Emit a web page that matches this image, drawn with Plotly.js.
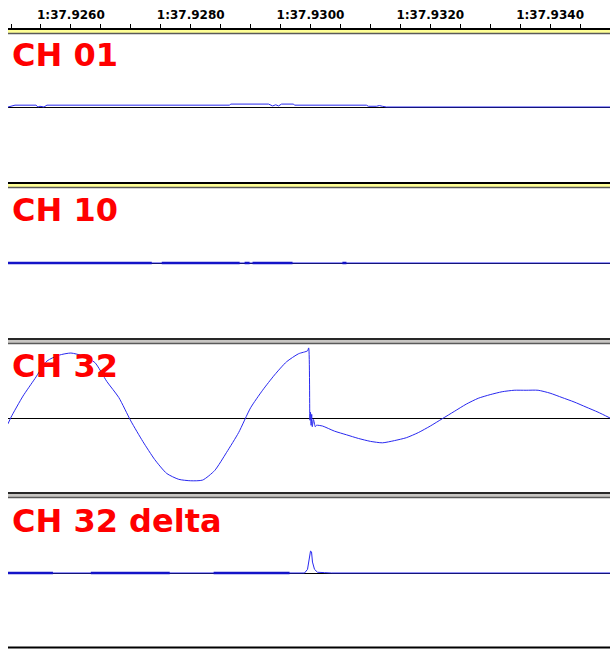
<!DOCTYPE html>
<html>
<head>
<meta charset="utf-8">
<script src="https://cdn.plot.ly/plotly-3.0.1.min.js"></script>
<style>html,body{margin:0;padding:0;background:#fff;}#chart{width:610px;height:649px;}</style>
</head>
<body>
<div id="chart"></div>
<script>
// ---- DATA (time in ms after 1:37.9 s, amplitude -1..1) ----
const channelNames = ["CH 01", "CH 10", "CH 32", "CH 32 delta"];

const tickTimes = [925.0,925.5,926.0,926.5,927.0,927.5,928.0,928.5,929.0,929.5,930.0,930.5,931.0,931.5,932.0,932.5,933.0,933.5,934.0,934.5,935.0];
const tickLabels = ["","","1:37.9260","","","","1:37.9280","","","","1:37.9300","","","","1:37.9320","","","","1:37.9340","",""];

// CH 01
const t01 = [924.95,925.067,925.417,925.45,925.483,925.55,925.6,928.65,928.667,929.3,929.367,929.42,929.467,929.517,929.717,929.733,930.933,930.967,931.1,931.15,931.2,931.267,935.0];
const v01 = [0.0,0.025,0.025,0.0,0.01,0.0,0.025,0.025,0.04,0.04,0.015,0.03,0.015,0.04,0.04,0.025,0.025,0.01,0.01,0.02,0.01,0.0,0.0];

// CH 10 (flat signal, with noisy stretches)
const t10 = [924.95,935.0];
const v10 = [0,0];
const t10noise = [924.95,927.35,null,927.517,928.817,null,928.9,928.983,null,929.033,929.7,null,930.533,930.6];
const v10noise = [0,0,null,0,0,null,0,0,null,0,0,null,0,0];

// CH 32
const t32 = [924.95,925.0,925.2,925.4,925.6,925.8,926.0,926.2,926.4,926.6,926.8,927.0,927.2,927.4,927.6,927.8,928.0,928.2,928.4,928.6,928.8,929.0,929.2,929.4,929.6,929.8,929.95,929.97,929.99,930.0,930.01,930.02,930.03,930.05,930.08,930.1,930.2,930.4,930.6,930.8,931.0,931.2,931.4,931.6,931.8,932.0,932.2,932.4,932.6,932.8,933.0,933.2,933.4,933.6,933.8,934.0,934.2,934.4,934.6,934.8,935.0];
const v32 = [-0.08,0.01,0.30,0.54,0.78,0.86,0.89,0.85,0.76,0.50,0.28,-0.04,-0.32,-0.57,-0.76,-0.84,-0.86,-0.85,-0.72,-0.47,-0.20,0.14,0.38,0.59,0.77,0.88,0.92,0.96,-0.03,0.08,-0.10,0.05,-0.12,-0.02,-0.12,-0.10,-0.11,-0.18,-0.23,-0.28,-0.32,-0.34,-0.31,-0.27,-0.20,-0.11,-0.01,0.09,0.19,0.27,0.32,0.36,0.38,0.38,0.38,0.34,0.28,0.22,0.15,0.08,0.0];

// CH 32 delta
const tDelta = [924.95,929.9,929.95,929.975,930.0,930.017,930.033,930.067,930.117,930.233,930.35,935.0];
const vDelta = [0,0,0.05,0.2,0.3,0.29,0.15,0.05,0.01,0.005,0,0];
const tDeltaNoise = [924.95,925.7,null,926.333,927.65,null,928.383,929.65];
const vDeltaNoise = [0,0,null,0,0,null,0,0];

// ---- LAYOUT ----
const W = 610, H = 649, mt = 28, mb = 0;
const plotH = H - mt - mb;
const py = p => (H - mb - p) / plotH;   // pixel y -> paper y

const blue = "rgb(40,40,240)";
const darkBlue = "rgb(20,20,200)";

const traces = [
  {x: t01, y: v01, xaxis: "x", yaxis: "y", mode: "lines", line: {color: blue, width: 1}},
  {x: t10, y: v10, xaxis: "x", yaxis: "y2", mode: "lines", line: {color: blue, width: 1}},
  {x: t10noise, y: v10noise, xaxis: "x", yaxis: "y2", mode: "lines", line: {color: darkBlue, width: 2.5}, connectgaps: false},
  {x: t32, y: v32, xaxis: "x", yaxis: "y3", mode: "lines", line: {color: blue, width: 1, shape: "spline", smoothing: 0.6}},
  {x: tDelta, y: vDelta, xaxis: "x", yaxis: "y4", mode: "lines", line: {color: blue, width: 1}},
  {x: tDeltaNoise, y: vDeltaNoise, xaxis: "x", yaxis: "y4", mode: "lines", line: {color: darkBlue, width: 2.5}, connectgaps: false}
];

const panels = [[34,180],[190,336],[345,491],[500,646]];
function yax(i){
  return {
    domain: [py(panels[i][1]), py(panels[i][0])],
    range: [-1, 1], anchor: "x",
    showticklabels: false, showgrid: false, ticks: "",
    zeroline: true, zerolinecolor: "#000", zerolinewidth: 1,
    showline: false, fixedrange: true
  };
}

const shapes = [];
function sep(top, fill, topCol, botCol){
  shapes.push({type:"rect", xref:"paper", yref:"paper", x0:0, x1:1, y0:py(top+6), y1:py(top), fillcolor:fill, line:{width:0}, layer:"above"});
  shapes.push({type:"line", xref:"paper", yref:"paper", x0:0, x1:1, y0:py(top+1), y1:py(top+1), line:{color:topCol, width:2}, layer:"above"});
  shapes.push({type:"line", xref:"paper", yref:"paper", x0:0, x1:1, y0:py(top+5.5), y1:py(top+5.5), line:{color:botCol, width:1.5}, layer:"above"});
}
sep(28, "rgb(255,255,150)", "#000", "rgb(90,90,90)");
sep(182, "rgb(255,255,150)", "#000", "rgb(90,90,90)");
sep(338, "rgb(200,198,195)", "rgb(40,40,40)", "rgb(90,90,90)");
sep(492, "rgb(200,198,195)", "rgb(40,40,40)", "rgb(90,90,90)");
shapes.push({type:"line", xref:"paper", yref:"paper", x0:0, x1:1, y0:py(647.5), y1:py(647.5), line:{color:"#000", width:2}, layer:"above"});

const labelY = [55, 210, 366, 521];
const annotations = channelNames.map((n, i) => ({
  text: "<b>" + n + "</b>", xref: "paper", yref: "paper",
  x: (10 - 8) / (W - 8), y: py(labelY[i]), xanchor: "left", yanchor: "middle",
  showarrow: false, font: {family: "DejaVu Sans", size: 32, color: "rgb(255,0,0)"}
}));

const layout = {
  width: W, height: H,
  margin: {l: 8, r: 0, t: mt, b: mb, pad: 0},
  paper_bgcolor: "#fff", plot_bgcolor: "#fff",
  showlegend: false,
  xaxis: {
    range: [924.95, 935.0], side: "top", anchor: "free", position: 1,
    tickmode: "array", tickvals: tickTimes, ticktext: tickLabels,
    ticks: "outside", ticklen: 4, tickwidth: 1, tickcolor: "#000",
    tickfont: {family: "DejaVu Sans", size: 12, color: "#000", weight: "bold"},
    showgrid: false, zeroline: false, showline: false, fixedrange: true
  },
  yaxis: yax(0), yaxis2: yax(1), yaxis3: yax(2), yaxis4: yax(3),
  shapes: shapes, annotations: annotations
};

Plotly.newPlot("chart", traces, layout, {displayModeBar: false, staticPlot: true});
</script>
</body>
</html>
